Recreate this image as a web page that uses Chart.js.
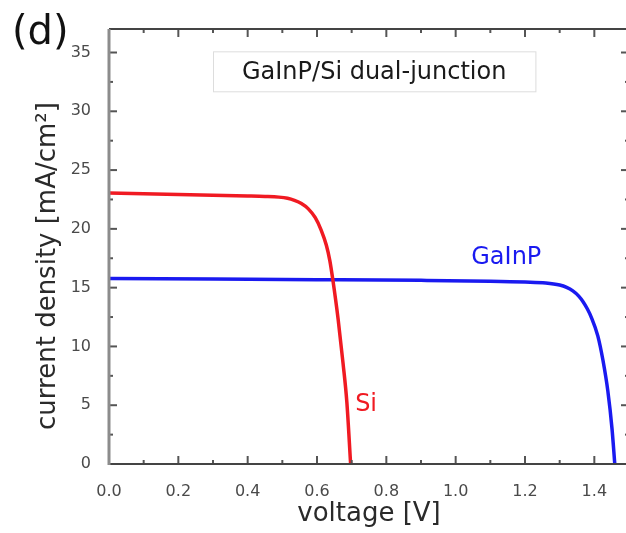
<!DOCTYPE html>
<html>
<head>
<meta charset="utf-8">
<script src="https://cdn.jsdelivr.net/npm/chart.js@4.4.1/dist/chart.umd.min.js"></script>
<style>
    html, body { margin: 0; padding: 0; background: #fff; overflow: hidden; }
    #wrap { width: 640px; height: 533px; }
</style>
</head>
<body>
<div id="wrap"><canvas id="ivChart" width="640" height="533"></canvas></div>
<script>
// Si sub-cell J-V curve
const voltageSi = [0, 0.1, 0.2, 0.3, 0.4, 0.45, 0.49, 0.515, 0.535, 0.555, 0.575, 0.595, 0.612, 0.627, 0.637, 0.646, 0.661, 0.675, 0.686, 0.697];
const currentSi = [23.05, 22.98, 22.92, 22.86, 22.8, 22.76, 22.7, 22.6, 22.42, 22.15, 21.7, 20.95, 19.9, 18.6, 17.3, 15.6, 12.3, 8.6, 5.3, 0];

// GaInP sub-cell J-V curve
const voltageGaInP = [0, 0.3, 0.6, 0.9, 1.1, 1.2, 1.26, 1.3, 1.32, 1.338, 1.355, 1.367, 1.38, 1.391, 1.41, 1.425, 1.439, 1.451, 1.459];
const currentGaInP = [15.78, 15.73, 15.68, 15.62, 15.55, 15.48, 15.4, 15.22, 15.02, 14.72, 14.28, 13.82, 13.18, 12.5, 10.9, 8.8, 6.2, 3.0, 0];

const xTickValues = [0, 0.2, 0.4, 0.6, 0.8, 1.0, 1.2, 1.4];
const xMinorTicks = [0.1, 0.3, 0.5, 0.7, 0.9, 1.1, 1.3];
const yTickValues = [0, 5, 10, 15, 20, 25, 30, 35];
const yMinorTicks = [2.5, 7.5, 12.5, 17.5, 22.5, 27.5, 32.5];

const FONT = "'DejaVu Sans', sans-serif";

function toPoints(xs, ys) {
    return xs.map((x, i) => ({ x: x, y: ys[i] }));
}

// frame, inward ticks and text labels
const framePlugin = {
    id: 'frame',
    afterDraw(chart) {
        const ctx = chart.ctx;
        const area = chart.chartArea;
        const xs = chart.scales.x;
        const ys = chart.scales.y;
        ctx.save();

        // ticks
        ctx.strokeStyle = '#555';
        ctx.lineWidth = 2;
        const tick = (x1, y1, x2, y2) => {
            ctx.beginPath();
            ctx.moveTo(x1, y1);
            ctx.lineTo(x2, y2);
            ctx.stroke();
        };
        xTickValues.forEach(v => {
            const px = xs.getPixelForValue(v);
            tick(px, area.bottom, px, area.bottom - 8);
            tick(px, area.top, px, area.top + 8);
        });
        xMinorTicks.forEach(v => {
            const px = xs.getPixelForValue(v);
            tick(px, area.bottom, px, area.bottom - 4);
            tick(px, area.top, px, area.top + 4);
        });
        yTickValues.forEach(v => {
            const py = ys.getPixelForValue(v);
            tick(area.left, py, area.left + 8, py);
            tick(area.right, py, area.right - 8, py);
        });
        yMinorTicks.forEach(v => {
            const py = ys.getPixelForValue(v);
            tick(area.left, py, area.left + 4, py);
            tick(area.right, py, area.right - 4, py);
        });

        // axis frame
        ctx.strokeStyle = '#444';
        ctx.lineWidth = 2;
        tick(area.left, area.top, area.right, area.top);
        tick(area.right, area.top, area.right, area.bottom);
        tick(area.left, area.bottom, area.right, area.bottom);
        ctx.strokeStyle = '#8c8c8c';
        ctx.lineWidth = 3;
        tick(area.left, area.top, area.left, area.bottom + 1);

        // title box
        const bx = xs.getPixelForValue(0.3);
        const bx2 = xs.getPixelForValue(1.23);
        const by = ys.getPixelForValue(35.1);
        const by2 = ys.getPixelForValue(31.7);
        ctx.fillStyle = '#fff';
        ctx.fillRect(bx, by, bx2 - bx, by2 - by);
        ctx.strokeStyle = '#ddd';
        ctx.lineWidth = 1;
        ctx.strokeRect(bx + 0.5, by + 0.5, bx2 - bx, by2 - by);
        ctx.fillStyle = '#1a1a1a';
        ctx.font = '24px ' + FONT;
        ctx.textAlign = 'center';
        ctx.textBaseline = 'middle';
        ctx.fillText('GaInP/Si dual-junction', (bx + bx2) / 2, (by + by2) / 2 + 1);

        // curve labels
        ctx.textAlign = 'left';
        ctx.font = '24px ' + FONT;
        ctx.fillStyle = '#1a1af0';
        ctx.fillText('GaInP', xs.getPixelForValue(1.045), ys.getPixelForValue(17.5));
        ctx.fillStyle = '#f01a22';
        ctx.fillText('Si', xs.getPixelForValue(0.71), ys.getPixelForValue(5.0));

        // panel label
        ctx.fillStyle = '#111';
        ctx.font = '40px ' + FONT;
        ctx.textBaseline = 'top';
        ctx.fillText('(d)', 12, 14);

        // y axis title
        ctx.save();
        ctx.translate(48, 266);
        ctx.rotate(-Math.PI / 2);
        ctx.fillStyle = '#2a2a2a';
        ctx.font = '26px ' + FONT;
        ctx.textAlign = 'center';
        ctx.textBaseline = 'middle';
        ctx.fillText('current density [mA/cm²]', 0, 0);
        ctx.restore();

        ctx.restore();
    }
};

function renderChart() {
    const ctx = document.getElementById('ivChart').getContext('2d');
    new Chart(ctx, {
        type: 'line',
        data: {
            datasets: [
                {
                    label: 'Si',
                    data: toPoints(voltageSi, currentSi),
                    borderColor: '#f01a22',
                    borderWidth: 3.5,
                    pointRadius: 0,
                    cubicInterpolationMode: 'monotone',
                    fill: false,
                },
                {
                    label: 'GaInP',
                    data: toPoints(voltageGaInP, currentGaInP),
                    borderColor: '#1a1af0',
                    borderWidth: 3.5,
                    pointRadius: 0,
                    cubicInterpolationMode: 'monotone',
                    fill: false,
                },
            ],
        },
        options: {
            responsive: false,
            animation: false,
            devicePixelRatio: 1,
            layout: {
                padding: { top: 29, right: 11, left: 0, bottom: 0 },
            },
            plugins: {
                legend: { display: false },
                tooltip: { enabled: false },
            },
            scales: {
                x: {
                    type: 'linear',
                    min: 0,
                    max: 1.5,
                    grid: { display: false },
                    border: { display: false },
                    afterBuildTicks: scale => {
                        scale.ticks = xTickValues.map(v => ({ value: v }));
                    },
                    afterFit: scale => {
                        scale.height = 69;
                    },
                    ticks: {
                        padding: 10,
                        color: '#4a4a4a',
                        font: { family: FONT, size: 16 },
                        maxRotation: 0,
                        callback: v => v.toFixed(1),
                    },
                    title: {
                        display: true,
                        text: 'voltage [V]',
                        color: '#2a2a2a',
                        font: { family: FONT, size: 26 },
                        padding: { top: 0, bottom: 3 },
                    },
                },
                y: {
                    min: 0,
                    max: 37,
                    grid: { display: false },
                    border: { display: false },
                    afterBuildTicks: scale => {
                        scale.ticks = yTickValues.map(v => ({ value: v }));
                    },
                    afterFit: scale => {
                        scale.width = 109;
                    },
                    ticks: {
                        padding: 10,
                        color: '#4a4a4a',
                        font: { family: FONT, size: 16 },
                    },
                },
            },
        },
        plugins: [framePlugin],
    });
}

renderChart();
</script>
</body>
</html>
